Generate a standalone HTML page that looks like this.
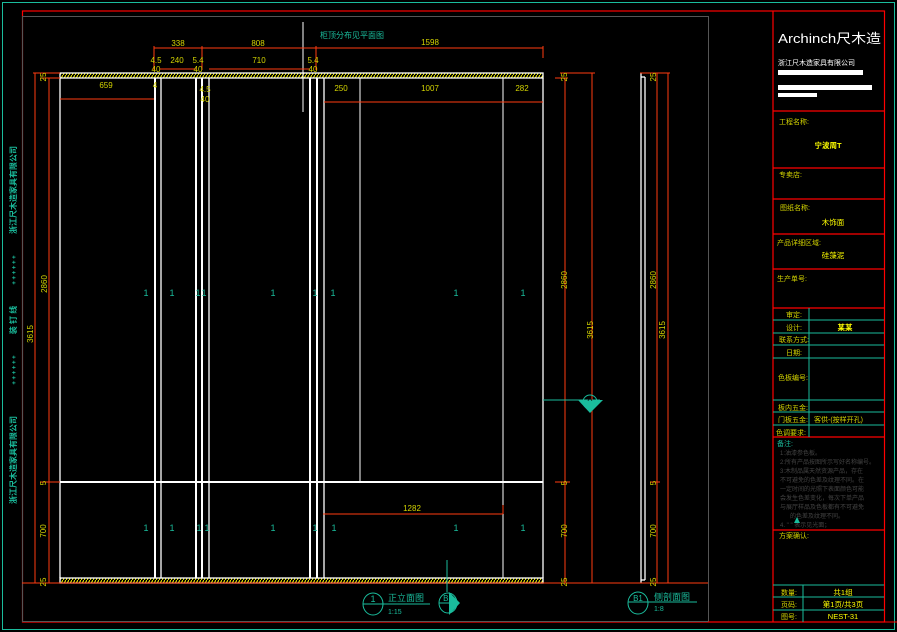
<!DOCTYPE html>
<html><head><meta charset="utf-8"><style>
html,body{margin:0;padding:0;background:#000;}
svg{display:block;}
text{font-family:"Liberation Sans","Noto Sans CJK SC",sans-serif;}
</style></head><body>
<svg width="897" height="632" viewBox="0 0 897 632" xmlns="http://www.w3.org/2000/svg">
<defs>
<pattern id="h" width="3" height="5" patternUnits="userSpaceOnUse"><rect width="3" height="5" fill="#000"/><line x1="0" y1="5" x2="3" y2="0" stroke="#ff0" stroke-width="1"/></pattern>
</defs>
<rect width="897" height="632" fill="#000"/>
<rect x="2.5" y="2.5" width="892" height="627" fill="none" stroke="#1abc9c" stroke-width="1"/>
<rect x="22.5" y="11" width="862" height="611" fill="none" stroke="#f00" stroke-width="1.2"/>
<rect x="22.5" y="16.5" width="686" height="605" fill="none" stroke="#555" stroke-width="1"/>
<line x1="708" y1="622" x2="897" y2="622" stroke="#f00"/>

<g fill="#1abc9c" font-size="8" font-weight="bold">
<text transform="translate(16,190) rotate(-90)" text-anchor="middle">浙江尺木造家具有限公司</text>
<text transform="translate(16,320) rotate(-90)" text-anchor="middle">装 钉 线</text>
<text transform="translate(16,460) rotate(-90)" text-anchor="middle">浙江尺木造家具有限公司</text>
<text transform="translate(16,270) rotate(-90)" text-anchor="middle" font-size="6">+ + + + + +</text>
<text transform="translate(16,370) rotate(-90)" text-anchor="middle" font-size="6">+ + + + + +</text>
</g>

<g stroke="#fff" stroke-width="1.3" fill="none">
<rect x="60" y="73" width="483" height="5" fill="url(#h)"/>
<rect x="60" y="578" width="483" height="5" fill="url(#h)"/>
<line x1="60" y1="78" x2="60" y2="578"/>
<line x1="543" y1="78" x2="543" y2="578"/>
<line x1="60" y1="482" x2="543" y2="482" stroke-width="2"/>
<line x1="155" y1="78" x2="155" y2="578" stroke-width="2"/>
<line x1="161" y1="78" x2="161" y2="578"/>
<line x1="196" y1="78" x2="196" y2="578" stroke-width="2"/>
<line x1="202" y1="78" x2="202" y2="578" stroke-width="2"/>
<line x1="209" y1="78" x2="209" y2="578"/>
<line x1="310" y1="78" x2="310" y2="578" stroke-width="2"/>
<line x1="317" y1="78" x2="317" y2="578" stroke-width="2"/>
<line x1="324" y1="78" x2="324" y2="578"/>
<line x1="360" y1="78" x2="360" y2="482" stroke-width="1"/>
<line x1="503" y1="78" x2="503" y2="578" stroke-width="1"/>
</g>
<line x1="303" y1="22" x2="303" y2="112" stroke="#fff" stroke-width="1"/>
<text x="320" y="38" fill="#1abc9c" font-size="8">柜顶分布见平面图</text>

<g stroke="#fff" fill="none" stroke-width="1.3">
<line x1="641" y1="73" x2="641" y2="583"/>
<line x1="645" y1="77" x2="645" y2="580"/>
<line x1="641" y1="77" x2="645" y2="77"/>
<line x1="641" y1="580" x2="645" y2="580"/>
</g>

<g stroke="#ff3b10" stroke-width="1" fill="none">
<line x1="154" y1="48" x2="543" y2="48"/>
<line x1="154" y1="46" x2="154" y2="70"/><line x1="202" y1="46" x2="202" y2="70"/><line x1="316" y1="46" x2="316" y2="70"/><line x1="543" y1="46" x2="543" y2="58"/>
<line x1="160" y1="69" x2="196" y2="69"/><line x1="209" y1="69" x2="310" y2="69"/>
<line x1="60" y1="99" x2="154" y2="99"/>
<line x1="324" y1="102" x2="543" y2="102"/>
<line x1="323" y1="514" x2="503" y2="514"/><line x1="503" y1="505" x2="503" y2="514"/>
<line x1="35" y1="73" x2="35" y2="583"/><line x1="49" y1="78" x2="49" y2="583"/>
<line x1="33" y1="73" x2="60" y2="73"/><line x1="40" y1="78" x2="60" y2="78"/>
<line x1="565" y1="78" x2="565" y2="583"/><line x1="592" y1="73" x2="592" y2="583"/>
<line x1="560" y1="73" x2="595" y2="73"/><line x1="555" y1="78" x2="568" y2="78"/>
<line x1="657" y1="73" x2="657" y2="583"/><line x1="668" y1="73" x2="668" y2="583"/>
<line x1="640" y1="73" x2="670" y2="73"/>
<line x1="22" y1="583" x2="708" y2="583"/>
<line x1="40" y1="482" x2="60" y2="482"/><line x1="555" y1="482" x2="570" y2="482"/><line x1="650" y1="482" x2="660" y2="482"/>
</g>

<g fill="#d4d400" font-size="8" text-anchor="middle">
<text x="178" y="46">338</text><text x="258" y="46">808</text><text x="430" y="45">1598</text>
<text x="156" y="63">4.5</text><text x="177" y="63">240</text><text x="198" y="63">5.4</text><text x="259" y="63">710</text><text x="313" y="63">5.4</text>
<text x="156" y="72">40</text><text x="198" y="72">40</text><text x="313" y="72">40</text>
<text x="106" y="88">659</text><text x="155" y="88">4</text>
<text x="205" y="92">4.5</text><text x="205" y="102">40</text>
<text x="341" y="91">250</text><text x="430" y="91">1007</text><text x="522" y="91">282</text>
<text x="412" y="511">1282</text>
</g>
<g fill="#d4d400" font-size="8" text-anchor="middle">
<text transform="translate(47,284) rotate(-90)">2860</text>
<text transform="translate(33,334) rotate(-90)">3615</text>
<text transform="translate(46,77) rotate(-90)">25</text>
<text transform="translate(46,531) rotate(-90)">700</text>
<text transform="translate(46,483) rotate(-90)">5</text>
<text transform="translate(46,582) rotate(-90)">25</text>
<text transform="translate(567,280) rotate(-90)">2860</text>
<text transform="translate(593,330) rotate(-90)">3615</text>
<text transform="translate(567,77) rotate(-90)">25</text>
<text transform="translate(567,531) rotate(-90)">700</text>
<text transform="translate(567,483) rotate(-90)">5</text>
<text transform="translate(567,582) rotate(-90)">25</text>
<text transform="translate(656,280) rotate(-90)">2860</text>
<text transform="translate(665,330) rotate(-90)">3615</text>
<text transform="translate(656,77) rotate(-90)">25</text>
<text transform="translate(656,531) rotate(-90)">700</text>
<text transform="translate(656,483) rotate(-90)">5</text>
<text transform="translate(656,582) rotate(-90)">25</text>
</g>

<g fill="#1abc9c" font-size="9" text-anchor="middle">
<text x="146" y="296">1</text><text x="172" y="296">1</text><text x="198" y="296">1</text><text x="204" y="296">1</text><text x="273" y="296">1</text><text x="315" y="296">1</text><text x="333" y="296">1</text><text x="456" y="296">1</text><text x="523" y="296">1</text>
<text x="146" y="531">1</text><text x="172" y="531">1</text><text x="199" y="531">1</text><text x="207" y="531">1</text><text x="273" y="531">1</text><text x="315" y="531">1</text><text x="334" y="531">1</text><text x="456" y="531">1</text><text x="523" y="531">1</text>
</g>

<g stroke="#1abc9c" fill="none">
<line x1="543" y1="400" x2="600" y2="400"/>
<circle cx="590" cy="402" r="7"/>
<line x1="583" y1="404" x2="597" y2="404"/>
</g>
<polygon points="578,400 603,400 590,413" fill="#1abc9c"/>
<text x="590" y="401" fill="#000" font-size="7" text-anchor="middle">A</text>

<g stroke="#1abc9c" fill="none">
<ellipse cx="373" cy="604" rx="10" ry="11"/><line x1="363" y1="604" x2="430" y2="604"/>
<line x1="447" y1="560" x2="447" y2="592"/>
<ellipse cx="448" cy="603" rx="9" ry="10"/><line x1="439" y1="603" x2="457" y2="603"/>
<ellipse cx="638" cy="603" rx="10" ry="11"/><line x1="628" y1="602" x2="697" y2="602"/>
</g>
<polygon points="449,592 460,603 449,615" fill="#1abc9c"/>
<g fill="#1abc9c" font-size="9">
<text x="373" y="602" text-anchor="middle">1</text>
<text x="388" y="601">正立面图</text>
<text x="388" y="614" font-size="7">1:15</text>
<text x="448" y="601" text-anchor="middle" font-size="8">B1</text>
<text x="638" y="601" text-anchor="middle" font-size="8">B1</text>
<text x="654" y="600">侧剖面图</text>
<text x="654" y="611" font-size="7">1:8</text>
</g>

<g stroke="#f00" stroke-width="1.2">
<line x1="773" y1="11" x2="773" y2="622"/>
<line x1="773" y1="111" x2="884" y2="111"/>
<line x1="773" y1="168" x2="884" y2="168"/>
<line x1="773" y1="199" x2="884" y2="199"/>
<line x1="773" y1="234" x2="884" y2="234"/>
<line x1="773" y1="269" x2="884" y2="269"/>
<line x1="773" y1="308" x2="884" y2="308"/>
<line x1="773" y1="437" x2="884" y2="437"/>
<line x1="773" y1="530" x2="884" y2="530"/>
</g>
<g stroke="#1abc9c" stroke-width="1">
<line x1="773" y1="320" x2="884" y2="320"/>
<line x1="773" y1="333" x2="884" y2="333"/>
<line x1="773" y1="345" x2="884" y2="345"/>
<line x1="773" y1="358" x2="884" y2="358"/>
<line x1="773" y1="400" x2="884" y2="400"/>
<line x1="773" y1="412" x2="884" y2="412"/>
<line x1="773" y1="425" x2="884" y2="425"/>
<line x1="809" y1="308" x2="809" y2="437"/>
<line x1="773" y1="585" x2="884" y2="585"/>
<line x1="773" y1="597" x2="884" y2="597"/>
<line x1="773" y1="610" x2="884" y2="610"/>
<line x1="803" y1="585" x2="803" y2="622"/>
</g>
<text x="778" y="43" fill="#fff" font-size="13" textLength="103" lengthAdjust="spacingAndGlyphs">Archinch尺木造</text>
<text x="778" y="65" fill="#fff" font-size="7">浙江尺木造家具有限公司</text>
<rect x="778" y="70" width="85" height="5" fill="#fff"/>
<rect x="778" y="85" width="94" height="5" fill="#fff"/>
<rect x="778" y="93" width="39" height="4" fill="#fff"/>
<g fill="#d4d400" font-size="7">
<text x="779" y="124">工程名称:</text>
<text x="779" y="177">专卖店:</text>
<text x="780" y="210">图纸名称:</text>
<text x="777" y="245">产品详细区域:</text>
<text x="777" y="281">生产单号:</text>
<text x="786" y="317">审定:</text>
<text x="786" y="330">设计:</text>
<text x="779" y="342">联系方式:</text>
<text x="786" y="355">日期:</text>
<text x="778" y="380">色板编号:</text>
<text x="778" y="410">板内五金:</text>
<text x="778" y="422">门板五金:</text>
<text x="776" y="435">色调要求:</text>
<text x="814" y="422">客供-(按样开孔)</text>
<text x="779" y="538">方案确认:</text>
<text x="781" y="595">数量:</text>
<text x="781" y="607">页码:</text>
<text x="781" y="619">图号:</text>
</g>
<g fill="#ff0" font-size="7.5" font-weight="bold" text-anchor="middle">
<text x="828" y="148">宁波周T</text>
<text x="833" y="225" font-weight="normal">木饰面</text>
<text x="833" y="258" font-weight="normal">硅藻泥</text>
<text x="845" y="330">某某</text>
<text x="843" y="595" font-weight="normal">共1组</text>
<text x="843" y="607" font-weight="normal">第1页/共3页</text>
<text x="843" y="619" font-weight="normal">NEST-31</text>
</g>
<text x="777" y="446" fill="#1abc9c" font-size="7">备注:</text>
<g fill="#444" font-size="6">
<text x="780" y="455">1:油漆参色板。</text>
<text x="780" y="464">2:所有产品按图所示写好名称编号。</text>
<text x="780" y="473">3:木制品属天然资源产品，存在</text>
<text x="780" y="482">不可避免的色差及纹理不同。在</text>
<text x="780" y="491">一定时间的光照下表面颜色可能</text>
<text x="780" y="500">会发生色差变化，每次下单产品</text>
<text x="780" y="509">与展厅样品及色板都有不可避免</text>
<text x="790" y="518">的色差及纹理不同。</text>
<text x="780" y="527">4.  "    " 表示见光面；</text>
</g>
<polygon points="794,523 800,523 797,517" fill="#1abc9c"/>
</svg>
</body></html>
